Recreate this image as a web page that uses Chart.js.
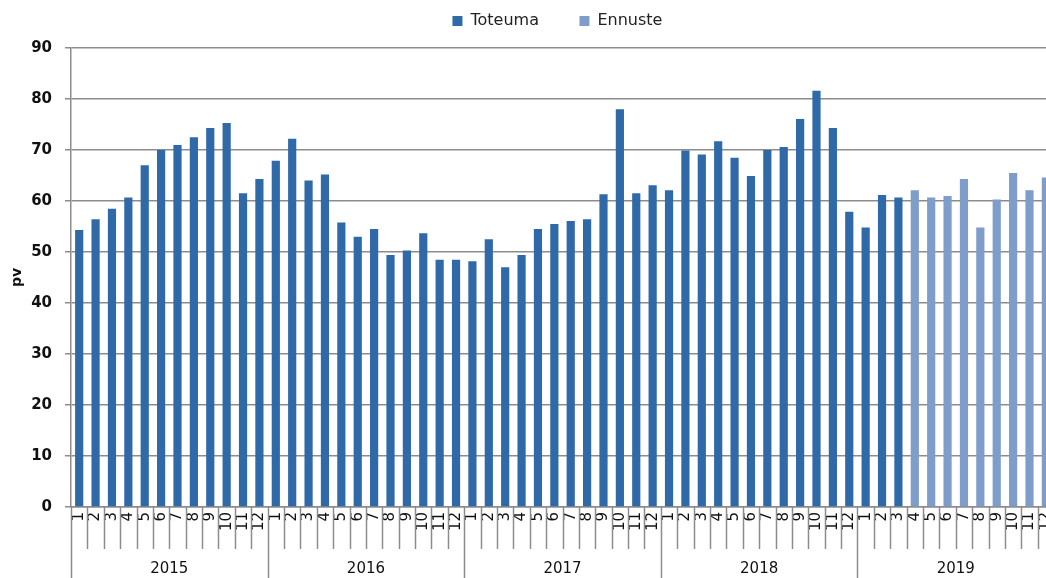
<!DOCTYPE html>
<html>
<head>
<meta charset="utf-8">
<script src="https://cdn.jsdelivr.net/npm/chart.js@4"></script>
<style>
  html, body { margin: 0; padding: 0; background: #fff; overflow: hidden; }
  #wrap { width: 1069px; height: 578px; }
</style>
</head>
<body>
<div id="wrap"><canvas id="chart" width="1069" height="578"></canvas></div>
<script>
// monthly values
var years = ['2015', '2016', '2017', '2018', '2019'];
var months = ['1', '2', '3', '4', '5', '6', '7', '8', '9', '10', '11', '12'];
var toteuma2015 = [54.3, 56.4, 58.5, 60.7, 67.0, 70.0, 71.0, 72.5, 74.3, 75.3, 61.5, 64.3];
var toteuma2016 = [67.9, 72.2, 64.0, 65.2, 55.8, 53.0, 54.5, 49.4, 50.3, 53.7, 48.5, 48.5];
var toteuma2017 = [48.2, 52.5, 47.0, 49.4, 54.5, 55.5, 56.1, 56.4, 61.3, 78.0, 61.5, 63.1];
var toteuma2018 = [62.1, 69.9, 69.1, 71.7, 68.5, 64.9, 70.0, 70.6, 76.1, 81.6, 74.3, 57.9];
var toteuma2019 = [54.8, 61.2, 60.7];
var ennuste2019 = [62.1, 60.7, 61.0, 64.3, 54.8, 60.3, 65.5, 62.1, 64.6];
var yTicks = [0, 10, 20, 30, 40, 50, 60, 70, 80, 90];

var labels = [];
years.forEach(function() { labels = labels.concat(months); });

var toteuma = toteuma2015.concat(toteuma2016, toteuma2017, toteuma2018, toteuma2019);
while (toteuma.length < labels.length) toteuma.push(null);
var ennuste = [];
while (ennuste.length < labels.length - ennuste2019.length) ennuste.push(null);
ennuste = ennuste.concat(ennuste2019);

var GRID = '#8c8c8c';
var FONT = "'DejaVu Sans', Verdana, sans-serif";

// month separators + year row under the axis
var yearRow = {
  id: 'yearRow',
  afterDraw: function(chart) {
    var x = chart.scales.x, ctx = chart.ctx;
    var top = chart.chartArea.bottom;
    ctx.save();
    ctx.strokeStyle = GRID;
    ctx.lineWidth = 1.5;
    for (var i = 0; i <= labels.length; i++) {
      var px = Math.round(x.getPixelForValue(i - 0.5)) + 0.5;
      ctx.beginPath();
      ctx.moveTo(px, top);
      ctx.lineTo(px, i % 12 === 0 ? chart.height : top + 42);
      ctx.stroke();
    }
    ctx.fillStyle = '#111';
    ctx.font = '15px ' + FONT;
    ctx.textAlign = 'center';
    ctx.textBaseline = 'middle';
    years.forEach(function(y, k) {
      ctx.fillText(y, x.getPixelForValue(k * 12 + 5.5), top + 62);
    });
    ctx.restore();
  }
};

new Chart(document.getElementById('chart'), {
  type: 'bar',
  data: {
    labels: labels,
    datasets: [
      { label: 'Toteuma', data: toteuma, backgroundColor: '#2f69a8', barPercentage: 0.5, categoryPercentage: 1 },
      { label: 'Ennuste', data: ennuste, backgroundColor: '#7f9dcb', barPercentage: 0.5, categoryPercentage: 1 }
    ]
  },
  options: {
    responsive: false,
    animation: false,
    devicePixelRatio: 1,
    layout: { padding: { top: 3, right: 1, left: 0, bottom: 0 } },
    plugins: {
      tooltip: { enabled: false },
      // empty spacer between legend and plot
      subtitle: {
        display: true,
        text: '',
        position: 'top',
        weight: 500,
        font: { size: 1, lineHeight: 1 },
        padding: { top: 0, bottom: 8 }
      },
      legend: {
        position: 'top',
        fullSize: false,
        labels: {
          boxWidth: 10,
          boxHeight: 10,
          padding: 10,
          color: '#222',
          font: { family: FONT, size: 16 },
          generateLabels: function(chart) {
            var items = Chart.defaults.plugins.legend.labels.generateLabels(chart);
            items[0].text = items[0].text + '      ';
            items[1].text = items[1].text + '  ';
            return items;
          }
        }
      }
    },
    scales: {
      x: {
        stacked: true,
        grid: { display: false, drawTicks: false },
        border: { display: true, color: GRID, width: 1.5 },
        ticks: {
          autoSkip: false,
          minRotation: 90,
          maxRotation: 90,
          padding: 5,
          color: '#111',
          font: { family: FONT, size: 15 }
        },
        afterFit: function(s) { s.height = 71; }
      },
      y: {
        min: 0,
        max: 90,
        afterBuildTicks: function(s) { s.ticks = yTicks.map(function(v) { return { value: v }; }); },
        grid: { color: GRID, lineWidth: 1.5, tickLength: 6 },
        border: { display: true, color: GRID, width: 1.5 },
        ticks: {
          padding: 13,
          color: '#111',
          font: { family: FONT, size: 15, weight: 'bold' }
        },
        title: {
          display: true,
          text: 'pv',
          color: '#111',
          padding: { top: 9, bottom: 0 },
          font: { family: FONT, size: 14, weight: 'bold' }
        },
        afterFit: function(s) { s.width = 71; }
      }
    }
  },
  plugins: [yearRow]
});
</script>
</body>
</html>
